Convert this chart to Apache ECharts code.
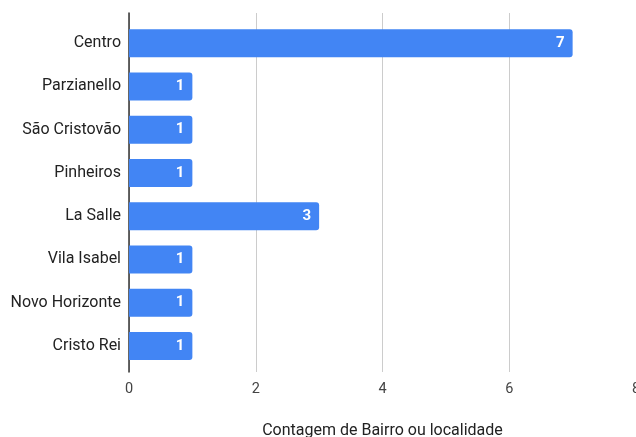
<!DOCTYPE html>
<html><head><meta charset="utf-8">
<script src="https://cdn.jsdelivr.net/npm/echarts@6/dist/echarts.min.js"></script>
<style>html,body{margin:0;padding:0;background:#fff}#c{width:636px;height:437px}</style>
</head><body><div id="c"></div>
<script>
const categories = ["Centro","Parzianello","São Cristovão","Pinheiros","La Salle","Vila Isabel","Novo Horizonte","Cristo Rei"];
const counts = [7,1,1,1,3,1,1,1];
const xTicks = [0,2,4,6,8];
const axisTitle = "Contagem de Bairro ou localidade";

const chart = echarts.init(document.getElementById('c'));
const font = 'Roboto, Arial, sans-serif';
chart.setOption({
  animation:false,
  grid:[
    {left:129, width:507, top:13, height:359, outerBoundsMode:'none', containLabel:false},
    {left:129, width:507, top:21.5, height:346, outerBoundsMode:'none', containLabel:false}
  ],
  xAxis:[
    {gridIndex:0, type:'value', min:0, max:8, interval:2,
     axisLine:{show:false}, axisTick:{show:false},
     splitLine:{lineStyle:{color:'#cccccc', width:1}},
     axisLabel:{color:'#444', fontFamily:font, fontSize:14.5, margin:10,
       formatter:v=>xTicks.includes(v)?String(v):''},
     name:axisTitle, nameLocation:'middle', nameGap:51,
     nameTextStyle:{color:'#222', fontFamily:font, fontSize:16}},
    {gridIndex:1, type:'value', min:0, max:8, show:false}
  ],
  yAxis:[
    {gridIndex:0, type:'value', min:0, max:1, axisLabel:{show:false}, splitLine:{show:false},
     axisTick:{show:false}, axisLine:{show:true, onZero:false, lineStyle:{color:'#333', width:1.5}}},
    {gridIndex:1, type:'category', data:categories, inverse:true,
     axisLine:{show:false}, axisTick:{show:false}, splitLine:{show:false},
     axisLabel:{color:'#222', fontFamily:font, fontSize:16, margin:8}}
  ],
  series:[{
    type:'bar', xAxisIndex:1, yAxisIndex:1, data:counts, barWidth:28,
    itemStyle:{color:'#4285f4', borderRadius:[0,3,3,0]},
    label:{show:true, position:'insideRight', color:'#fff', fontWeight:'bold',
      fontFamily:font, fontSize:15, distance:8}
  }]
});
</script></body></html>
